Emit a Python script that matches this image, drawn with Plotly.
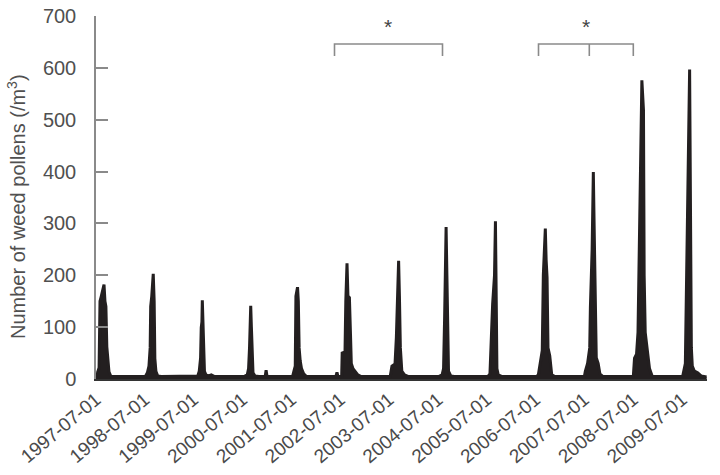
import plotly.graph_objects as go

# ---- data ----
dates_1997 = ["1997-07-01","1997-07-12","1997-07-24","1997-07-31","1997-08-08","1997-08-20","1997-08-30","1997-09-06","1997-09-13","1997-09-20","1997-09-28","1997-10-06","1997-10-20","1998-01-15","1998-06-20"]
vals_1997 = [6,12,22,150,158,170,182,150,140,62,40,14,5,5,5]

dates_1998 = ["1998-07-05","1998-07-20","1998-08-01","1998-08-10","1998-08-14","1998-08-22","1998-08-28","1998-09-02","1998-09-09","1998-09-14","1998-09-22","1998-10-05","1998-11-01","1999-06-20"]
vals_1998 = [5,12,25,60,140,160,185,203,150,40,15,6,5,5]

dates_1999 = ["1999-07-10","1999-08-01","1999-08-12","1999-08-22","1999-08-27","1999-09-01","1999-09-04","1999-09-09","1999-09-14","1999-09-20","1999-10-01","1999-10-20","1999-11-10","1999-12-01","2000-06-20"]
vals_1999 = [5,6,15,40,99,110,152,100,50,15,8,6,8,5,5]

dates_2000 = ["2000-07-15","2000-08-05","2000-08-15","2000-08-22","2000-08-26","2000-08-31","2000-09-05","2000-09-10","2000-09-17","2000-10-01","2000-11-01","2000-12-17","2000-12-24","2000-12-31","2001-06-20"]
vals_2000 = [5,8,20,60,93,141,100,40,12,6,5,5,17,5,5]

dates_2001 = ["2001-07-10","2001-07-20","2001-07-30","2001-08-04","2001-08-10","2001-08-16","2001-08-22","2001-08-28","2001-09-05","2001-09-15","2001-10-01","2001-10-20","2002-05-30","2002-06-07","2002-06-14"]
vals_2001 = [5,15,25,160,167,177,150,60,35,20,10,5,5,13,5]

dates_2002 = ["2002-07-12","2002-07-16","2002-08-06","2002-08-12","2002-08-21","2002-08-28","2002-09-08","2002-09-16","2002-09-22","2002-10-05","2002-10-20","2002-11-10","2002-12-01","2003-06-20"]
vals_2002 = [5,50,52,150,223,160,157,87,30,20,15,8,5,5]

dates_2003 = ["2003-07-10","2003-07-23","2003-08-15","2003-08-25","2003-09-03","2003-09-11","2003-09-17","2003-09-24","2003-10-05","2003-10-25","2003-11-20","2004-06-20"]
vals_2003 = [5,25,29,80,168,228,160,60,15,8,5,5]

dates_2004 = ["2004-07-10","2004-08-01","2004-08-12","2004-08-20","2004-08-24","2004-08-31","2004-09-06","2004-09-11","2004-09-18","2004-10-05","2004-11-01","2005-06-20"]
vals_2004 = [5,8,20,120,232,293,200,60,15,6,5,5]

dates_2005 = ["2005-07-10","2005-07-25","2005-08-01","2005-08-14","2005-08-28","2005-09-04","2005-09-10","2005-09-15","2005-09-25","2005-10-20","2006-06-20"]
vals_2005 = [5,10,60,145,200,304,150,20,8,5,5]

dates_2006 = ["2006-07-10","2006-07-22","2006-08-05","2006-08-20","2006-08-28","2006-09-05","2006-09-12","2006-09-18","2006-09-25","2006-10-02","2006-10-15","2006-10-30","2006-11-20","2007-06-20"]
vals_2006 = [5,8,30,55,200,260,290,230,196,60,45,8,5,5]

dates_2007 = ["2007-07-01","2007-07-08","2007-07-25","2007-08-10","2007-08-15","2007-08-28","2007-09-06","2007-09-12","2007-09-20","2007-09-28","2007-10-12","2007-10-25","2007-11-15","2008-06-20"]
vals_2007 = [5,15,30,60,138,250,399,296,120,41,30,10,5,5]

dates_2008 = ["2008-07-01","2008-07-10","2008-07-25","2008-08-05","2008-08-10","2008-08-20","2008-08-28","2008-09-03","2008-09-15","2008-09-20","2008-09-28","2008-10-15","2008-10-30","2008-11-20","2009-06-20"]
vals_2008 = [5,40,48,90,170,300,500,576,518,200,90,48,20,5,5]

dates_2009 = ["2009-07-05","2009-07-25","2009-08-05","2009-08-15","2009-08-26","2009-09-02","2009-09-08","2009-09-15","2009-10-01","2009-10-25","2009-11-20","2009-12-31"]
vals_2009 = [5,30,277,400,597,300,60,25,15,12,6,4]

tick_dates = ["%d-07-01" % y for y in range(1997, 2010)]
tick_labels = ["%d-07-01" % y for y in range(1997, 2010)]
y_ticks = [0, 100, 200, 300, 400, 500, 600, 700]

all_dates = (dates_1997 + dates_1998 + dates_1999 + dates_2000 + dates_2001 + dates_2002 +
             dates_2003 + dates_2004 + dates_2005 + dates_2006 + dates_2007 + dates_2008 + dates_2009)
all_vals = (vals_1997 + vals_1998 + vals_1999 + vals_2000 + vals_2001 + vals_2002 +
            vals_2003 + vals_2004 + vals_2005 + vals_2006 + vals_2007 + vals_2008 + vals_2009)

FONT = "Liberation Sans, Arial, Helvetica, sans-serif"
INK = "#231f20"
GREY = "#8a8a8a"
TXT = "#505050"

fig = go.Figure()
fig.add_trace(go.Scatter(
    x=all_dates, y=all_vals, mode="lines",
    line=dict(color=INK, width=3),
    fill="tozeroy", fillcolor=INK,
    hoverinfo="skip", showlegend=False,
))

L, R, T, B = 96, 13, 16, 96
PW = 720 - L - R
PH = 475 - T - B

def px_to_paper_x(p):
    return (p - L) / PW

def px_to_paper_y(q):
    return (475 - B - q) / PH

line_style = dict(color=GREY, width=1.6)
b1 = [334.5, 442.5]
b2 = [538.5, 589.3, 633.3]
ytop, ybot = px_to_paper_y(44), px_to_paper_y(56)
fig.add_shape(type="path", xref="paper", yref="paper",
              path="M %f,%f L %f,%f L %f,%f L %f,%f" % (px_to_paper_x(b1[0]), ybot, px_to_paper_x(b1[0]), ytop,
                                                         px_to_paper_x(b1[1]), ytop, px_to_paper_x(b1[1]), ybot),
              line=line_style)
fig.add_shape(type="path", xref="paper", yref="paper",
              path="M %f,%f L %f,%f L %f,%f L %f,%f" % (px_to_paper_x(b2[0]), ybot, px_to_paper_x(b2[0]), ytop,
                                                         px_to_paper_x(b2[2]), ytop, px_to_paper_x(b2[2]), ybot),
              line=line_style)
fig.add_shape(type="line", xref="paper", yref="paper",
              x0=px_to_paper_x(b2[1]), x1=px_to_paper_x(b2[1]), y0=ytop, y1=ybot, line=line_style)
for sx in [388.3, 586.0]:
    fig.add_annotation(x=px_to_paper_x(sx), xref="paper", y=px_to_paper_y(27), yref="paper",
                       text="*", showarrow=False, xanchor="center", yanchor="middle",
                       font=dict(family=FONT, size=21, color="#444444"))

# y-axis title as rotated annotation
fig.add_annotation(x=px_to_paper_x(16), xref="paper", y=px_to_paper_y(207), yref="paper",
                   text="Number of weed pollens (/m<sup>3</sup>)", textangle=-90,
                   showarrow=False, xanchor="center", yanchor="middle",
                   font=dict(family=FONT, size=20, color=TXT))

fig.update_layout(
    width=720, height=475,
    margin=dict(l=L, r=R, t=T, b=B),
    paper_bgcolor="white", plot_bgcolor="white",
    font=dict(family=FONT, color=TXT),
    xaxis=dict(
        type="date", range=["1997-07-01", "2010-01-03"],
        tickmode="array", tickvals=tick_dates, ticktext=tick_labels,
        tickangle=-40, tickfont=dict(family=FONT, size=19, color="#4a4a4a"),
        showline=True, linecolor="#333333", linewidth=2,
        ticks="", showgrid=False, zeroline=False, automargin=False,
    ),
    yaxis=dict(
        range=[0, 700], tickmode="array", tickvals=y_ticks,
        ticks="inside", ticklen=12, tickcolor=GREY, tickwidth=1.5,
        showline=True, linecolor=GREY, linewidth=1.5,
        tickfont=dict(family=FONT, size=20, color=TXT),
        ticklabelstandoff=14,
        showgrid=False, zeroline=False, automargin=False,
    ),
)

fig.write_html("out.html")
